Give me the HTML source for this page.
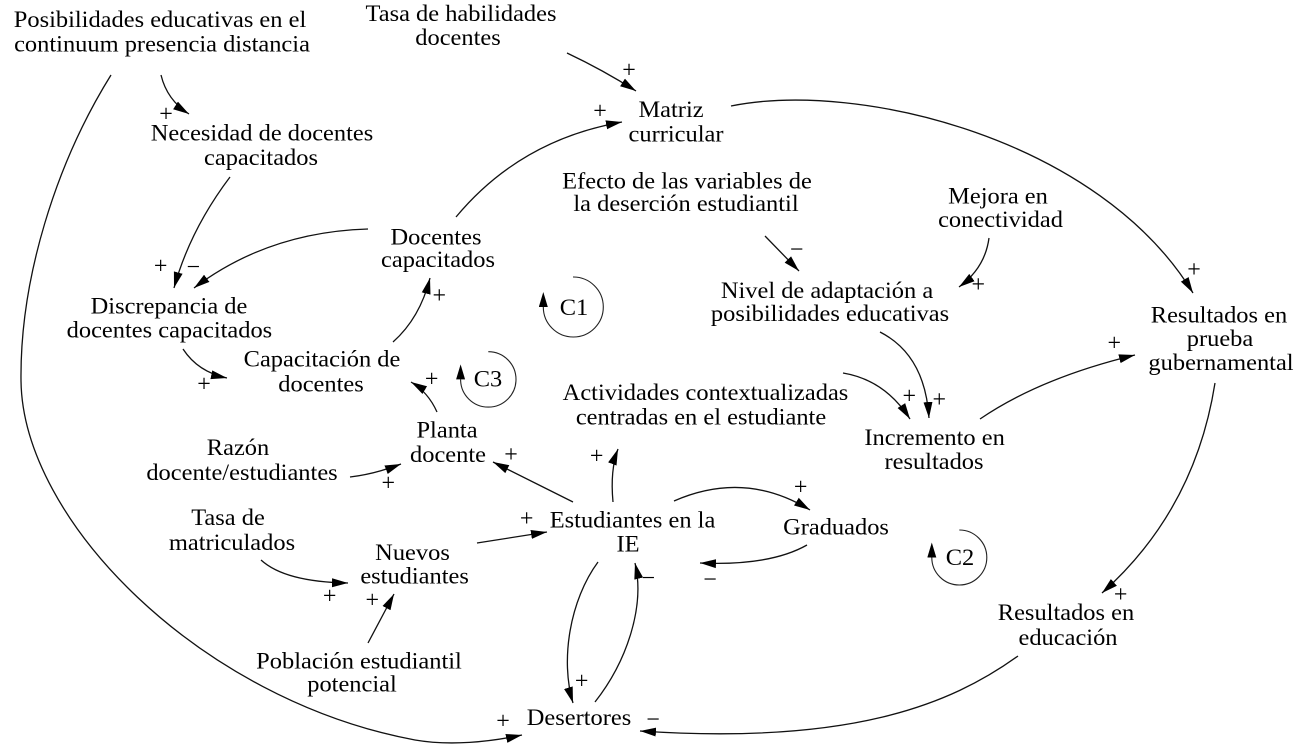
<!DOCTYPE html>
<html>
<head>
<meta charset="utf-8">
<style>
  html, body { margin:0; padding:0; background:#fff; }
  svg { display:block; }
  .t { font-family:"Liberation Serif","Times New Roman",serif; font-size:23.5px; fill:#000; text-anchor:middle; }
  .s { font-family:"Liberation Serif","Times New Roman",serif; font-size:24px; fill:#000; text-anchor:middle; }
  .c { fill:none; stroke:#111; stroke-width:1.3; }
  .l { fill:none; stroke:#222; stroke-width:1.1; }
</style>
</head>
<body>
<svg width="1298" height="749" viewBox="0 0 1298 749" xmlns="http://www.w3.org/2000/svg">
  <defs>
    <marker id="a" viewBox="0 0 16 10" refX="16" refY="5" markerWidth="16" markerHeight="10" markerUnits="userSpaceOnUse" orient="auto">
      <path d="M0,0.5 L16,5 L0,9.5 z" fill="#000"/>
    </marker>
    <marker id="b" viewBox="0 0 15 9" refX="0" refY="4.5" markerWidth="15" markerHeight="9" markerUnits="userSpaceOnUse" orient="auto">
      <path d="M0,0 L15,4.5 L0,9 z" fill="#000"/>
    </marker>
  </defs>

  <!-- Connectors -->
  <path class="c" marker-end="url(#a)" d="M161,75 Q167,100 189,114"/>
  <path class="c" marker-end="url(#a)" d="M567,53 Q603,70 636,91"/>
  <path class="c" marker-end="url(#a)" d="M456,217 Q520,140 622,122"/>
  <path class="c" marker-end="url(#a)" d="M731,106 C860,80 1100,140 1193,293"/>
  <path class="c" marker-end="url(#a)" d="M230,177 Q190,230 174,288"/>
  <path class="c" marker-end="url(#a)" d="M368,229 Q268,232 194,288"/>
  <path class="c" marker-end="url(#a)" d="M183,349 Q198,372 227,378"/>
  <path class="c" marker-end="url(#a)" d="M393,342 Q420,318 430,278"/>
  <path class="c" marker-end="url(#a)" d="M437,412 Q428,392 411,382"/>
  <path class="c" marker-end="url(#a)" d="M350,477 Q375,474 401,464"/>
  <path class="c" marker-end="url(#a)" d="M573,502 L493,462"/>
  <path class="c" marker-end="url(#a)" d="M613,502 Q610,470 618,449"/>
  <path class="c" marker-end="url(#a)" d="M477,543 L547,532"/>
  <path class="c" marker-end="url(#a)" d="M261,560 Q285,582 348,583"/>
  <path class="c" marker-end="url(#a)" d="M368,643 L394,594"/>
  <path class="c" marker-end="url(#a)" d="M674,501 Q745,470 810,510"/>
  <path class="c" marker-end="url(#a)" d="M807,545 Q770,566 700,563"/>
  <path class="c" marker-end="url(#a)" d="M598,562 C570,600 560,660 573,703"/>
  <path class="c" marker-end="url(#a)" d="M595,702 C628,660 645,605 635,563"/>
  <path class="c" marker-end="url(#a)" d="M1018,656 C950,705 850,745 640,731"/>
  <path class="c" marker-end="url(#a)" d="M1215,383 Q1195,510 1102,593"/>
  <path class="c" marker-end="url(#a)" d="M980,419 Q1040,378 1135,355"/>
  <path class="c" marker-end="url(#a)" d="M880,332 Q925,355 929,418"/>
  <path class="c" marker-end="url(#a)" d="M843,373 Q885,380 910,419"/>
  <path class="c" marker-end="url(#a)" d="M765,236 L799,271"/>
  <path class="c" marker-end="url(#a)" d="M989,238 Q985,268 959,287"/>
  <path class="c" marker-end="url(#a)" d="M111,75 C55,165 20,280 21,380 C22,520 200,700 415,740 C450,746 490,742 522,735"/>

  <!-- Loop markers -->
  <path class="l" marker-end="url(#b)" d="M573,277 A30 30 0 1 1 543.3,307"/>
  <path class="l" marker-end="url(#b)" d="M488.3,351.7 A27.7 27.7 0 1 1 460.6,379.4"/>
  <path class="l" marker-end="url(#b)" d="M959.3,530 A27.5 27.5 0 1 1 931.8,557.5"/>

  <!-- Labels -->
  <g class="t">
    <text transform="translate(160,27) scale(1.04,1)">Posibilidades educativas en el</text>
    <text transform="translate(162,51.5) scale(1.04,1)">continuum presencia distancia</text>

    <text transform="translate(461,21) scale(1.04,1)">Tasa de habilidades</text>
    <text transform="translate(458,45) scale(1.04,1)">docentes</text>

    <text transform="translate(671,117) scale(1.04,1)">Matriz</text>
    <text transform="translate(676,141.5) scale(1.04,1)">curricular</text>

    <text transform="translate(262,140.7) scale(1.04,1)">Necesidad de docentes</text>
    <text transform="translate(261,165) scale(1.04,1)">capacitados</text>

    <text transform="translate(436,244.3) scale(1.04,1)">Docentes</text>
    <text transform="translate(438,267) scale(1.04,1)">capacitados</text>

    <text transform="translate(687,188.3) scale(1.04,1)">Efecto de las variables de</text>
    <text transform="translate(686,211) scale(1.04,1)">la deserción estudiantil</text>

    <text transform="translate(998,203.3) scale(1.04,1)">Mejora en</text>
    <text transform="translate(1000.5,227) scale(1.04,1)">conectividad</text>

    <text transform="translate(827,298) scale(1.04,1)">Nivel de adaptación a</text>
    <text transform="translate(830,321) scale(1.04,1)">posibilidades educativas</text>

    <text transform="translate(1219,322.3) scale(1.04,1)">Resultados en</text>
    <text transform="translate(1220,346) scale(1.04,1)">prueba</text>
    <text transform="translate(1221,370) scale(1.04,1)">gubernamental</text>

    <text transform="translate(169,313.3) scale(1.04,1)">Discrepancia de</text>
    <text transform="translate(169.4,337.7) scale(1.04,1)">docentes capacitados</text>

    <text transform="translate(322,366.7) scale(1.04,1)">Capacitación de</text>
    <text transform="translate(321,391.7) scale(1.04,1)">docentes</text>

    <text transform="translate(705.5,400) scale(1.04,1)">Actividades contextualizadas</text>
    <text transform="translate(701,424.3) scale(1.04,1)">centradas en el estudiante</text>

    <text transform="translate(447,437.3) scale(1.04,1)">Planta</text>
    <text transform="translate(448,462) scale(1.04,1)">docente</text>

    <text transform="translate(238,455) scale(1.04,1)">Razón</text>
    <text transform="translate(242,480) scale(1.04,1)">docente/estudiantes</text>

    <text transform="translate(934.6,445) scale(1.04,1)">Incremento en</text>
    <text transform="translate(934,469) scale(1.04,1)">resultados</text>

    <text transform="translate(632.5,527.7) scale(1.04,1)">Estudiantes en la</text>
    <text transform="translate(628,551.7) scale(1.04,1)">IE</text>

    <text transform="translate(836,534.3) scale(1.04,1)">Graduados</text>

    <text transform="translate(228,525) scale(1.04,1)">Tasa de</text>
    <text transform="translate(232,550) scale(1.04,1)">matriculados</text>

    <text transform="translate(412.5,560) scale(1.04,1)">Nuevos</text>
    <text transform="translate(414.6,583.3) scale(1.04,1)">estudiantes</text>

    <text transform="translate(359,668.3) scale(1.04,1)">Población estudiantil</text>
    <text transform="translate(352,691.7) scale(1.04,1)">potencial</text>

    <text transform="translate(1066,620) scale(1.04,1)">Resultados en</text>
    <text transform="translate(1068,645) scale(1.04,1)">educación</text>

    <text transform="translate(579,725) scale(1.04,1)">Desertores</text>

    <text transform="translate(574,315) scale(1.04,1)">C1</text>
    <text transform="translate(960,565) scale(1.04,1)">C2</text>
    <text transform="translate(488,386.7) scale(1.04,1)">C3</text>
  </g>

  <!-- Polarity signs -->
  <g class="s">
    <text x="166" y="121.5">+</text>
    <text x="629" y="77.7">+</text>
    <text x="600" y="118.7">+</text>
    <text x="160.7" y="273.7">+</text>
    <text x="193.3" y="274.7">−</text>
    <text x="204" y="391.3">+</text>
    <text x="439.3" y="303">+</text>
    <text x="431.7" y="386.3">+</text>
    <text x="796.7" y="257">−</text>
    <text x="978.3" y="292">+</text>
    <text x="1194" y="277">+</text>
    <text x="1114.3" y="350.3">+</text>
    <text x="909.3" y="403.7">+</text>
    <text x="939.3" y="407">+</text>
    <text x="511" y="462">+</text>
    <text x="596.7" y="463.7">+</text>
    <text x="388.3" y="490.3">+</text>
    <text x="526.7" y="526">+</text>
    <text x="800.7" y="494.3">+</text>
    <text x="710" y="587">−</text>
    <text x="648.3" y="585.3">−</text>
    <text x="581.7" y="688.7">+</text>
    <text x="329.6" y="603.7">+</text>
    <text x="372.3" y="607.7">+</text>
    <text x="1120.6" y="602">+</text>
    <text x="653" y="727">−</text>
    <text x="503" y="728.7">+</text>
  </g>
</svg>
</body>
</html>
